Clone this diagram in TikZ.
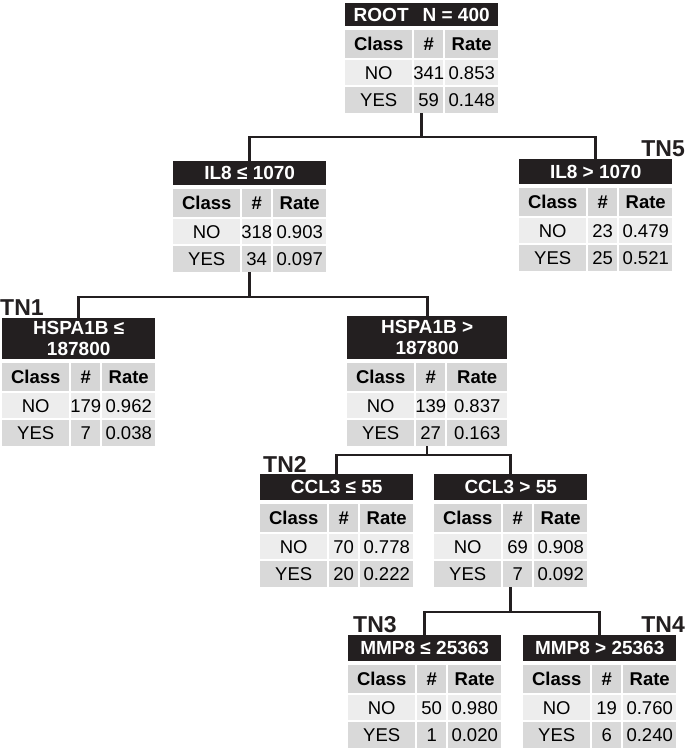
\documentclass[tikz,border=0pt]{standalone}
\usepackage{fontspec}
\setmainfont{Liberation Sans}
\definecolor{hdrblack}{HTML}{231F20}
\definecolor{rowhead}{HTML}{D6D6D6}
\definecolor{rowno}{HTML}{EDEDED}
\definecolor{rowyes}{HTML}{D9D9D9}
\tikzset{
  hdr/.style={fill=hdrblack, text=white, font=\fontsize{19}{21}\selectfont\bfseries, inner sep=0pt, anchor=north west, align=center},
  cellbox/.style={inner sep=0pt, anchor=north west, font=\fontsize{18.5}{20}\selectfont},
  conn/.style={draw=hdrblack, line width=2.6pt},
  tnlabel/.style={font=\fontsize{23}{24}\selectfont\bfseries, inner sep=0pt, text=hdrblack},
}
\newcommand\cellnode[7]{\node[cellbox, fill=#6, minimum width=#4pt, minimum height=#5pt] (#1) at (#2,#3) {\makebox[0pt]{#7}};}
\def\rw{53}\def\tw{153}
\newcommand\tnode[9]{%
  \node[hdr, minimum width=\tw pt, minimum height=#4pt] (#1) at (#2,#3) {#5};
  \pgfmathsetmacro\tnY{#3+#4+4}
  \pgfmathsetmacro\tnXa{#2+69}
  \pgfmathsetmacro\tnXb{#2+100}
  \pgfmathsetmacro\tnRa{\tnY+30}
  \pgfmathsetmacro\tnRb{\tnY+57}
  \pgfmathsetmacro\tnBot{\tnY+83}
  \pgfmathsetmacro\tnCx{#2+\tw/2}
  \cellnode{#1-hc}{#2}{\tnY}{67}{28}{rowhead}{\bfseries Class}
  \cellnode{#1-hn}{\tnXa}{\tnY}{29}{28}{rowhead}{\bfseries\#}
  \cellnode{#1-hr}{\tnXb}{\tnY}{\rw}{28}{rowhead}{\bfseries Rate}
  \cellnode{#1-nc}{#2}{\tnRa}{67}{25}{rowno}{NO}
  \cellnode{#1-nn}{\tnXa}{\tnRa}{29}{25}{rowno}{#6}
  \cellnode{#1-nr}{\tnXb}{\tnRa}{\rw}{25}{rowno}{#7}
  \cellnode{#1-yc}{#2}{\tnRb}{67}{26}{rowyes}{YES}
  \cellnode{#1-yn}{\tnXa}{\tnRb}{29}{26}{rowyes}{#8}
  \cellnode{#1-yr}{\tnXb}{\tnRb}{\rw}{26}{rowyes}{#9}
  \coordinate (#1-bot) at (\tnCx,\tnBot);
}
\begin{document}
\begin{tikzpicture}[x=1pt,y=1pt,yscale=-1]
\useasboundingbox (0,0) rectangle (685,748);
\tnode{root}{345}{3}{23}{ROOT\hspace{14pt}N = 400}{341}{0.853}{59}{0.148}
\tnode{il8l}{173}{161}{24}{IL8 ≤ 1070}{318}{0.903}{34}{0.097}
\tnode{il8r}{519}{159}{25}{IL8 > 1070}{23}{0.479}{25}{0.521}
\tnode{hspl}{2}{318}{41}{HSPA1B ≤\\187800}{179}{0.962}{7}{0.038}
\def\rw{60}\def\tw{160}
\tnode{hspr}{347}{316}{43}{HSPA1B >\\187800}{139}{0.837}{27}{0.163}
\def\rw{53}\def\tw{153}
\tnode{ccll}{260}{474}{26}{CCL3 ≤ 55}{70}{0.778}{20}{0.222}
\tnode{cclr}{434}{474}{26}{CCL3 > 55}{69}{0.908}{7}{0.092}
\tnode{mmpl}{348}{635}{26}{MMP8 ≤ 25363}{50}{0.980}{1}{0.020}
\tnode{mmpr}{523}{635}{26}{MMP8 > 25363}{19}{0.760}{6}{0.240}

\coordinate (j1) at (root-bot |- 0,137);
\coordinate (j2) at (il8l-bot |- 0,297);
\coordinate (j3) at (hspr-bot |- 0,455);
\coordinate (j4) at (cclr-bot |- 0,612);

\draw[conn] (root-bot) -- (j1);
\draw[conn] ([yshift=3pt]il8l.north) |- (j1) -| ([yshift=3pt]il8r.north);
\draw[conn] (il8l-bot) -- (j2);
\draw[conn] ([yshift=3pt]hspl.north) |- (j2) -| ([yshift=3pt]hspr.north);
\draw[conn] (hspr-bot) -- (j3);
\draw[conn] ([yshift=3pt]ccll.north) |- (j3) -| ([yshift=3pt]cclr.north);
\draw[conn] (cclr-bot) -- (j4);
\draw[conn] ([yshift=3pt]mmpl.north) |- (j4) -| ([yshift=3pt]mmpr.north);

\node[tnlabel, anchor=base west] (tn1) at (0,315) {TN1};
\node[tnlabel, anchor=base west] (tn2) at (263,472) {TN2};
\node[tnlabel, anchor=base west] (tn3) at (353,632) {TN3};
\node[tnlabel, anchor=base east] (tn4) at (685,632) {TN4};
\node[tnlabel, anchor=base east] (tn5) at (685,156) {TN5};
\end{tikzpicture}
\end{document}
